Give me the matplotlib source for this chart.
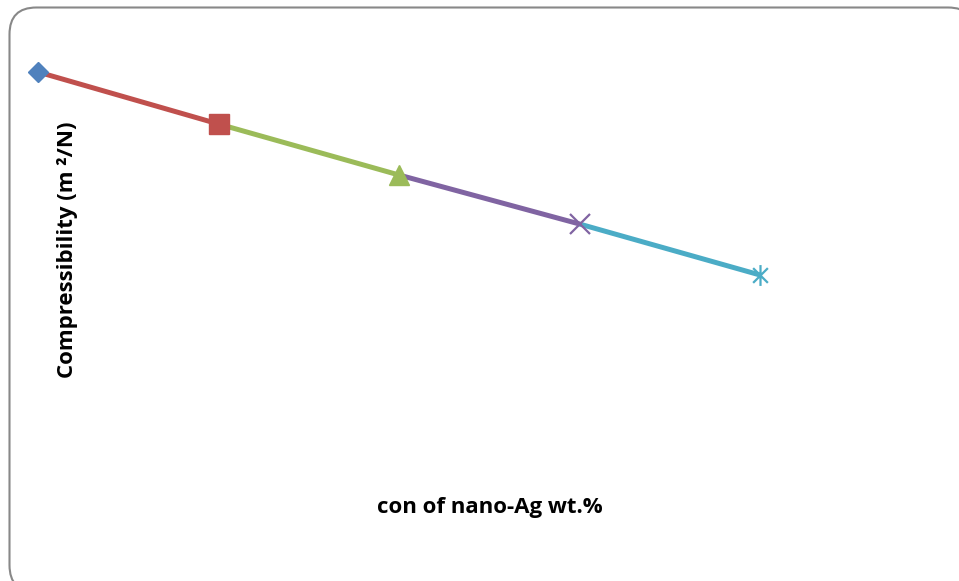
import matplotlib
matplotlib.use("Agg")
import matplotlib.pyplot as plt
from matplotlib.patches import FancyBboxPatch
from matplotlib.path import Path
import numpy as np

# Data: compressibility vs. nano-Ag concentration
conc = [0, 1, 2, 3, 4]
compressibility = [4.28, 3.76, 3.25, 2.76, 2.25]
point_colors = ["#4F81BD", "#C0504D", "#9BBB59", "#8064A2", "#4BACC6"]

x_label = "con of nano-Ag wt.%"
y_label = "Compressibility (m \u00b2/N)"

# Asterisk marker: vertical bar plus an X
star_path = Path(
    [(0, -1), (0, 1),
     (-0.7071, -0.7071), (0.7071, 0.7071),
     (-0.7071, 0.7071), (0.7071, -0.7071)],
    [Path.MOVETO, Path.LINETO,
     Path.MOVETO, Path.LINETO,
     Path.MOVETO, Path.LINETO],
)

marker_styles = [
    dict(marker="D", markersize=10.5),
    dict(marker="s", markersize=14),
    dict(marker="^", markersize=15),
    dict(marker="x", markersize=14, markeredgewidth=1.6),
    dict(marker=star_path, markersize=15, markeredgewidth=1.6),
]

W, H = 959, 581
fig = plt.figure(figsize=(W / 100, H / 100), dpi=100)

# Rounded chart-area frame (runs past the right and bottom edges)
frame = FancyBboxPatch((9.5 / W, (H - 592) / H), (975 - 9.5) / W, (592 - 7.5) / H,
                       boxstyle="round,pad=0,rounding_size=0.028",
                       transform=fig.transFigure, facecolor="white",
                       edgecolor="#888888", linewidth=1.5, zorder=-5,
                       mutation_aspect=W / H)
fig.patches.append(frame)

ax = fig.add_axes([20 / W, (H - 460) / H, (900 - 20) / W, (460 - 40) / H])
ax.set_zorder(2)
ax.set_xlim((20 - 38) / 180.5, (900 - 38) / 180.5)
ax.set_ylim(0.40, 4.60)
ax.axis("off")

# Each segment takes the colour of the point it ends on
for i in range(1, len(conc)):
    ax.plot(conc[i - 1:i + 1], compressibility[i - 1:i + 1],
            color=point_colors[i], linewidth=3.6, solid_capstyle="butt", zorder=2)

for xi, yi, c, st in zip(conc, compressibility, point_colors, marker_styles):
    ax.plot([xi], [yi], linestyle="none", color=c, markerfacecolor=c,
            markeredgecolor=c, zorder=3, clip_on=False, **st)

font = ["Open Sans", "DejaVu Sans"]
fig.text(490 / W, 1 - 507 / H, x_label, ha="center", va="center",
         fontsize=16, fontweight="bold", family=font)
fig.text(67 / W, 1 - 250 / H, y_label, ha="center", va="center", rotation=90,
         fontsize=16, fontweight="bold", family=font)

fig.savefig("out.png", dpi=100, facecolor="white")
